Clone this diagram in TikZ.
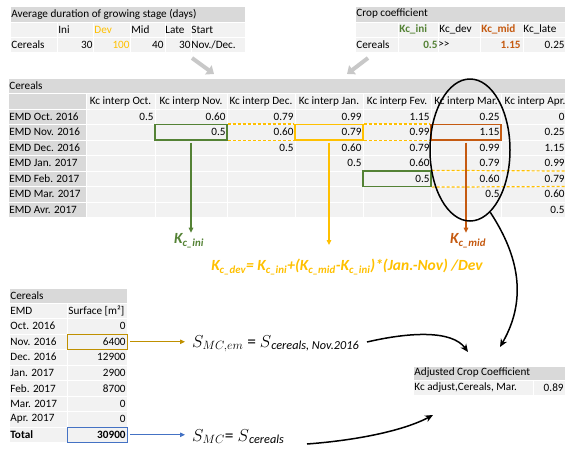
\documentclass[tikz,border=0pt]{standalone}
\usepackage{fontspec}
\setmainfont{Carlito}
\usetikzlibrary{arrows.meta,shapes.geometric}
\definecolor{hdrgray}{HTML}{D9D9D9}
\definecolor{cellgray}{HTML}{F2F2F2}
\definecolor{kgreen}{HTML}{548235}
\definecolor{kyellow}{HTML}{FFC000}
\definecolor{korange}{HTML}{C55A11}
\definecolor{kgold}{HTML}{BF9000}
\definecolor{kblue}{HTML}{4472C4}
\definecolor{arrgray}{HTML}{C8C8C8}
\begin{document}
\begin{tikzpicture}[x=1pt,y=-1pt,
  hdrfill/.style={fill=hdrgray,draw=white,line width=0.8pt},
  cellfill/.style={fill=cellgray,draw=white,line width=0.8pt},
  txt/.style={font=\fontsize{11.2}{13}\selectfont,inner sep=1.2pt},
  lt/.style={txt,anchor=west},
  rt/.style={txt,anchor=east},
  ct/.style={txt,anchor=center},
  bt/.style={font=\fontsize{11.2}{13}\selectfont\bfseries},
  hlbox/.style={draw=#1,line width=1.2pt,inner sep=0pt,minimum height=15.5pt},
  dashy/.style={draw=kyellow,line width=1.2pt,dash pattern=on 3pt off 2pt},
  vline/.style={draw=#1,line width=1.2pt,-{Triangle[length=5pt,width=4.5pt]}},
  bigk/.style={font=\fontsize{15.5}{18}\selectfont\bfseries\itshape,inner sep=1pt},
  blackarr/.style={draw=black,line width=1.5pt,-{Stealth[length=8pt,width=7pt]}},
  grayarr/.style={draw=arrgray,line width=4pt,-{Triangle[length=7pt,width=11pt]}},
  sform/.style={font=\fontsize{17.5}{20}\selectfont,inner sep=1pt,anchor=base west},
  thinarr/.style={draw=#1,line width=0.8pt,-{Triangle[length=5pt,width=4.5pt]}}
]
\useasboundingbox (0,0) rectangle (565,448);

% ---------- top-left table ----------
\path[hdrfill] (10,6) rectangle (245,22);
\node[lt] (avgT) at (10,14) {Average duration of growing stage (days)};
\foreach \a/\b in {10/57,57/93,93/130,130/165,165/191,191/245}{
  \path[cellfill] (\a,22) rectangle (\b,37);
  \path[cellfill] (\a,37) rectangle (\b,52);
}
\node[lt] (tIni) at (57,29.5) {Ini};
\node[lt,text=kyellow] (tDev) at (93,29.5) {Dev};
\node[lt] (tMid) at (130,29.5) {Mid};
\node[lt] (tLate) at (164,29.5) {Late};
\node[lt] (tStart) at (190,29.5) {Start};
\node[lt] (tCer) at (10,44.5) {Cereals};
\node[rt] (vIni) at (94,44.5) {30};
\node[rt,text=kyellow] (vDev) at (131,44.5) {100};
\node[rt] (vMid) at (165,44.5) {40};
\node[rt] (vLate) at (192,44.5) {30};
\node[lt] (vStart) at (190,44.5) {Nov./Dec.};

% ---------- top-right table ----------
\path[hdrfill] (355,6) rectangle (565,22);
\node[lt] (ccT) at (355,14) {Crop coefficient};
\foreach \a/\b in {355/398,398/438,438/480,480/523,523/566}{
  \path[cellfill] (\a,22) rectangle (\b,37);
  \path[cellfill] (\a,37) rectangle (\b,52);
}
\node[lt,text=kgreen,bt] (cIni) at (398,29.5) {Kc\_ini};
\node[lt] (cDev) at (438,29.5) {Kc\_dev};
\node[lt,text=korange,bt] (cMid) at (480,29.5) {Kc\_mid};
\node[lt] (cLate) at (522,29.5) {Kc\_late};
\node[lt] (cCer) at (355,44.5) {Cereals};
\node[rt,text=kgreen,bt] (cvIni) at (439,44.5) {0.5};
\node[lt] (cvDev) at (437,44.5) {{>}{>}};
\node[rt,text=korange,bt] (cvMid) at (522,44.5) {1.15};
\node[rt] (cvLate) at (566,44.5) {0.25};

% gray arrows
\coordinate (ga1s) at (192,58); \coordinate (ga1e) at (214,74);
\coordinate (ga2s) at (368,58); \coordinate (ga2e) at (347,74);
\draw[grayarr] (ga1s) -- (ga1e);
\draw[grayarr] (ga2s) -- (ga2e);

% ---------- main table ----------
\path[hdrfill] (8,78) rectangle (566,93.5);
\node[lt] (mT) at (8,85.75) {Cereals};
\foreach \ya/\yb in {93.5/109,109/124.5,124.5/140,140/155.5,155.5/171,171/186.5,186.5/202,202/217.5}{
  \path[hdrfill] (8,\ya) rectangle (86,\yb);
  \foreach \xa/\xb in {86/155,155/227,227/295,295/363,363/431,431/501,501/570}
    \path[cellfill] (\xa,\ya) rectangle (\xb,\yb);
}
\node[ct] (h1) at (120.5,101.25) {Kc interp Oct.};
\node[ct] (h2) at (191,101.25) {Kc interp Nov.};
\node[ct] (h3) at (261,101.25) {Kc interp Dec.};
\node[ct] (h4) at (329,101.25) {Kc interp Jan.};
\node[ct] (h5) at (397,101.25) {Kc interp Fev.};
\node[ct] (h6) at (466,101.25) {Kc interp Mar.};
\node[ct] (h7) at (535,101.25) {Kc interp Apr.};
\node[lt] (r1) at (8,116.75) {EMD Oct. 2016};
\node[lt] (r2) at (8,132.25) {EMD Nov. 2016};
\node[lt] (r3) at (8,147.75) {EMD Dec. 2016};
\node[lt] (r4) at (8,163.25) {EMD Jan. 2017};
\node[lt] (r5) at (8,178.75) {EMD Feb. 2017};
\node[lt] (r6) at (8,194.25) {EMD Mar. 2017};
\node[lt] (r7) at (8,209.75) {EMD Avr. 2017};
% data
\node[rt] (d11) at (155,116.75) {0.5};
\node[rt] (d12) at (227,116.75) {0.60};
\node[rt] (d13) at (295,116.75) {0.79};
\node[rt] (d14) at (363,116.75) {0.99};
\node[rt] (d15) at (431,116.75) {1.15};
\node[rt] (d16) at (501,116.75) {0.25};
\node[rt] (d17) at (566,116.75) {0};
\node[rt] (d22) at (227,132.25) {0.5};
\node[rt] (d23) at (295,132.25) {0.60};
\node[rt] (d24) at (363,132.25) {0.79};
\node[rt] (d25) at (431,132.25) {0.99};
\node[rt] (d26) at (501,132.25) {1.15};
\node[rt] (d27) at (566,132.25) {0.25};
\node[rt] (d33) at (295,147.75) {0.5};
\node[rt] (d34) at (363,147.75) {0.60};
\node[rt] (d35) at (431,147.75) {0.79};
\node[rt] (d36) at (501,147.75) {0.99};
\node[rt] (d37) at (566,147.75) {1.15};
\node[rt] (d44) at (363,163.25) {0.5};
\node[rt] (d45) at (431,163.25) {0.60};
\node[rt] (d46) at (501,163.25) {0.79};
\node[rt] (d47) at (566,163.25) {0.99};
\node[rt] (d55) at (431,178.75) {0.5};
\node[rt] (d56) at (501,178.75) {0.60};
\node[rt] (d57) at (566,178.75) {0.79};
\node[rt] (d66) at (501,194.25) {0.5};
\node[rt] (d67) at (566,194.25) {0.60};
\node[rt] (d77) at (566,209.75) {0.5};

% highlight boxes
\node[hlbox=kgreen,minimum width=72pt] (gbox) at (191,132.25) {};
\node[hlbox=kyellow,minimum width=68pt] (ybox) at (329,132.25) {};
\node[hlbox=korange,minimum width=70pt] (obox) at (466,132.25) {};
\node[hlbox=kgreen,minimum width=68pt] (gbox2) at (397,178.75) {};
\draw[dashy] (gbox.north east) -- (ybox.north west);
\draw[dashy] (gbox.south east) -- (ybox.south west);
\draw[dashy] (ybox.north east) -- (obox.north west);
\draw[dashy] (ybox.south east) -- (obox.south west);
\coordinate (fe1) at (566,171); \coordinate (fe2) at (566,186.5);
\draw[dashy] (gbox2.north east) -- (fe1);
\draw[dashy] (gbox2.south east) -- (fe2);

% K labels and formula
\node[bigk,text=kgreen] (kini) at (189,241) {K\textsubscript{c\_ini}};
\node[bigk,text=korange] (kmid) at (468,241) {K\textsubscript{c\_mid}};
\node[bigk,text=kyellow] (kdev) at (347,267) {K\textsubscript{c\_dev}= K\textsubscript{c\_ini}+(K\textsubscript{c\_mid}-K\textsubscript{c\_ini})*(Jan.-Nov) /Dev};
\coordinate (ytip) at (329,245);
\draw[vline=kgreen] ([yshift=-2pt]gbox.south) -- (gbox.south |- kini.north);
\draw[vline=kyellow] ([yshift=-2pt]ybox.south) -- (ytip);
\draw[vline=korange] ([yshift=-2pt]obox.south) -- (obox.south |- kmid.north);

% ellipse
\node[ellipse,draw=black,line width=1.5pt,minimum width=80pt,minimum height=142pt,inner sep=0pt] (ell) at (470,150) {};

% ---------- bottom-left table ----------
\path[hdrfill] (9,288) rectangle (127,303);
\node[lt] (sT) at (9,295.5) {Cereals};
\foreach \ya/\yb in {303/318.5,318.5/334,334/349.5,349.5/365,365/380.5,380.5/396,396/411.5,411.5/427,427/442.5}{
  \path[cellfill] (9,\ya) rectangle (67,\yb);
  \path[cellfill] (67,\ya) rectangle (127,\yb);
}
\node[lt] (sEMD) at (9,310.75) {EMD};
\node[lt] (sSurf) at (67,310.75) {Surface [m²]};
\node[lt] (s1) at (9,326.25) {Oct. 2016};
\node[lt] (s2) at (9,341.75) {Nov. 2016};
\node[lt] (s3) at (9,357.25) {Dec. 2016};
\node[lt] (s4) at (9,372.75) {Jan. 2017};
\node[lt] (s5) at (9,388.25) {Feb. 2017};
\node[lt] (s6) at (9,403.75) {Mar. 2017};
\node[lt] (s7) at (9,419.25) {Apr. 2017};
\node[lt,bt] (s8) at (9,434.75) {Total};
\node[rt] (v1) at (127,326.25) {0};
\node[rt] (v2) at (127,341.75) {6400};
\node[rt] (v3) at (127,357.25) {12900};
\node[rt] (v4) at (127,372.75) {2900};
\node[rt] (v5) at (127,388.25) {8700};
\node[rt] (v6) at (127,403.75) {0};
\node[rt] (v7) at (127,419.25) {0};
\node[rt,bt] (v8) at (127,434.75) {30900};
\node[draw=kgold,line width=0.9pt,minimum width=60pt,minimum height=15.5pt,inner sep=0pt] (novbox) at (97,341.75) {};
\node[draw=kblue,line width=0.9pt,minimum width=60pt,minimum height=15.5pt,inner sep=0pt] (totbox) at (97,434.75) {};

% formulas
\node[sform] (form1) at (191,347) {$S_{MC,em}$ = $S$\textsubscript{\itshape cereals, Nov.2016}};
\node[sform] (form2) at (191,441) {$S_{MC}$= $S$\textsubscript{\itshape cereals}};
\draw[thinarr=kgold] ([xshift=3pt]novbox.east) -- (novbox.east -| form1.west) [shorten >=6pt];
\draw[thinarr=kblue] ([xshift=3pt]totbox.east) -- (totbox.east -| form2.west) [shorten >=6pt];

% ---------- adjusted table ----------
\path[hdrfill] (413,366) rectangle (566,380);
\node[lt] (adjT) at (413,373) {Adjusted Crop Coefficient};
\path[cellfill] (413,380) rectangle (533,395);
\path[cellfill] (533,380) rectangle (566,395);
\node[lt] (adjL) at (413,387.5) {Kc adjust,Cereals, Mar.};
\node[rt] (adjV) at (565,387.5) {0.89};

% black curved arrows
\coordinate (adjA) at (468,352);
\coordinate (adjB) at (500,347);
\coordinate (adjC) at (433,415);
\coordinate (f1end) at (367,342);
\coordinate (f2end) at (307,444);
\draw[blackarr] (ell.-72) .. controls (515,250) and (530,295) .. (adjB);
\draw[blackarr] (f1end) .. controls (410,332) and (452,330) .. (adjA);
\draw[blackarr] (f2end) .. controls (360,440) and (405,430) .. (adjC);
\end{tikzpicture}
\end{document}
